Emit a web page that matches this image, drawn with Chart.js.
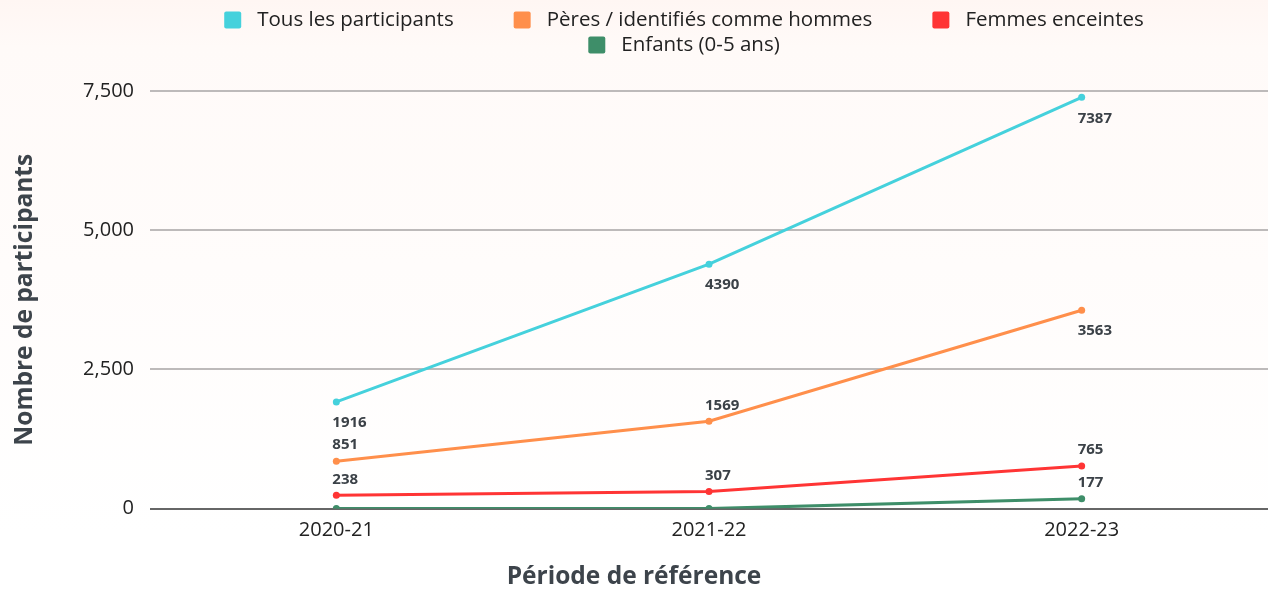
<!DOCTYPE html>
<html lang="fr">
<head>
<meta charset="utf-8">
<title>Participants</title>
<script src="https://cdn.jsdelivr.net/npm/chart.js@4.4.1/dist/chart.umd.min.js"></script>
<style>
  html, body { margin: 0; padding: 0; }
  body {
    width: 1268px; height: 592px; overflow: hidden;
    background: linear-gradient(to bottom, #fff6f3 0%, #fffaf8 8%, #fffcfb 45%, #ffffff 90%);
  }
  #wrap { position: relative; width: 1268px; height: 592px; }
</style>
</head>
<body>
<div id="wrap"><canvas id="chart" width="1268" height="592"></canvas></div>
<script>
// ---- Data ----
const periods = ['2020-21', '2021-22', '2022-23'];
const seriesNames = ['Tous les participants', 'Pères / identifiés comme hommes', 'Femmes enceintes', 'Enfants (0-5 ans)'];
const tousValues = [1916, 4390, 7387];
const peresValues = [851, 1569, 3563];
const femmesValues = [238, 307, 765];
const enfantsValues = [0, 0, 177];
const yTicks = [0, 2500, 5000, 7500];

const FONT = '"Open Sans", Lato, sans-serif';
const TEXT_DARK = '#222222';
const TITLE_COLOR = '#3d444b';

// Data label plugin (no external plugin available)
const valueLabels = {
  id: 'valueLabels',
  afterDatasetsDraw(chart) {
    const ctx = chart.ctx;
    ctx.save();
    ctx.font = 'bold 15px ' + FONT;
    ctx.fillStyle = '#3b4147';
    ctx.textAlign = 'left';
    ctx.textBaseline = 'middle';
    chart.data.datasets.forEach((ds, di) => {
      const meta = chart.getDatasetMeta(di);
      meta.data.forEach((pt, i) => {
        const v = ds.data[i];
        if (!v) return;
        const side = ds.labelSide[i];
        const dy = side === 'below' ? 21 : -16;
        ctx.fillText(String(v), pt.x - 4, pt.y + dy);
      });
    });
    ctx.restore();
  }
};

// Row legend plugin (two centred rows)
const rowLegend = {
  id: 'rowLegend',
  afterDraw(chart, args, o) {
    const ctx = chart.ctx;
    ctx.save();
    ctx.font = o.fontSize + 'px ' + FONT;
    ctx.textBaseline = 'middle';
    ctx.textAlign = 'left';
    o.rows.forEach((row, r) => {
      const items = row.map(i => chart.data.datasets[i]);
      const widths = items.map(ds => o.box + o.boxGap + ctx.measureText(ds.label).width);
      const total = widths.reduce((a, b) => a + b, 0) + o.itemGap * (items.length - 1);
      let x = o.centerX - total / 2;
      const y = o.top + r * o.rowHeight;
      items.forEach((ds, k) => {
        ctx.fillStyle = ds.borderColor;
        ctx.beginPath();
        ctx.roundRect(x, y - o.box / 2, o.box, o.box, 2);
        ctx.fill();
        ctx.fillStyle = o.color;
        ctx.fillText(ds.label, x + o.box + o.boxGap, y);
        x += widths[k] + o.itemGap;
      });
    });
    ctx.restore();
  }
};

function makeDataset(label, data, color, sides) {
  return {
    label: label,
    data: data,
    borderColor: color,
    backgroundColor: color,
    borderWidth: 3,
    pointRadius: 3.5,
    pointHoverRadius: 4,
    pointBackgroundColor: color,
    pointBorderWidth: 0,
    tension: 0,
    fill: false,
    labelSide: sides
  };
}

new Chart(document.getElementById('chart'), {
  type: 'line',
  data: {
    labels: periods,
    datasets: [
      makeDataset(seriesNames[0], tousValues, '#45d1dc', ['below', 'below', 'below']),
      makeDataset(seriesNames[1], peresValues, '#ff8f4b', ['above', 'above', 'below']),
      makeDataset(seriesNames[2], femmesValues, '#ff3434', ['above', 'above', 'above']),
      makeDataset(seriesNames[3], enfantsValues, '#3e8e69', ['above', 'above', 'above'])
    ]
  },
  plugins: [valueLabels, rowLegend],
  options: {
    responsive: false,
    devicePixelRatio: 1,
    animation: false,
    layout: { autoPadding: false, padding: { top: 91, right: 0, bottom: 0, left: 0 } },
    plugins: {
      legend: { display: false },
      tooltip: { enabled: false },
      title: {
        display: true,
        position: 'bottom',
        text: 'Période de référence',
        color: TITLE_COLOR,
        font: { family: FONT, size: 24.5, weight: 'bold' },
        padding: { top: 10, bottom: 0 }
      },
      rowLegend: {
        rows: [[0, 1, 2], [3]],
        fontSize: 20.5,
        box: 17,
        boxGap: 16,
        itemGap: 60,
        centerX: 684,
        top: 20,
        rowHeight: 25,
        color: TEXT_DARK
      }
    },
    scales: {
      x: {
        offset: true,
        afterFit(scale) { scale.paddingLeft = 0; scale.paddingRight = 0; },
        grid: { display: false, drawTicks: false },
        border: { display: false },
        ticks: {
          color: TEXT_DARK,
          font: { family: FONT, size: 20 },
          padding: 10
        }
      },
      y: {
        min: 0,
        max: 7500,
        afterBuildTicks(scale) {
          scale.ticks = yTicks.map(v => ({ value: v }));
        },
        afterFit(scale) { scale.width = 150; },
        border: { display: false },
        grid: {
          drawTicks: false,
          lineWidth: 2,
          color: ctx => (ctx.tick && ctx.tick.value === 0) ? '#666666' : '#bdbaba'
        },
        ticks: {
          color: TEXT_DARK,
          font: { family: FONT, size: 20 },
          padding: 16,
          callback: v => Number(v).toLocaleString('en-US')
        },
        title: {
          display: true,
          text: 'Nombre de participants',
          color: TITLE_COLOR,
          font: { family: FONT, size: 24.5, weight: 'bold' },
          padding: { top: 10, bottom: 0 }
        }
      }
    }
  }
});
</script>
</body>
</html>
